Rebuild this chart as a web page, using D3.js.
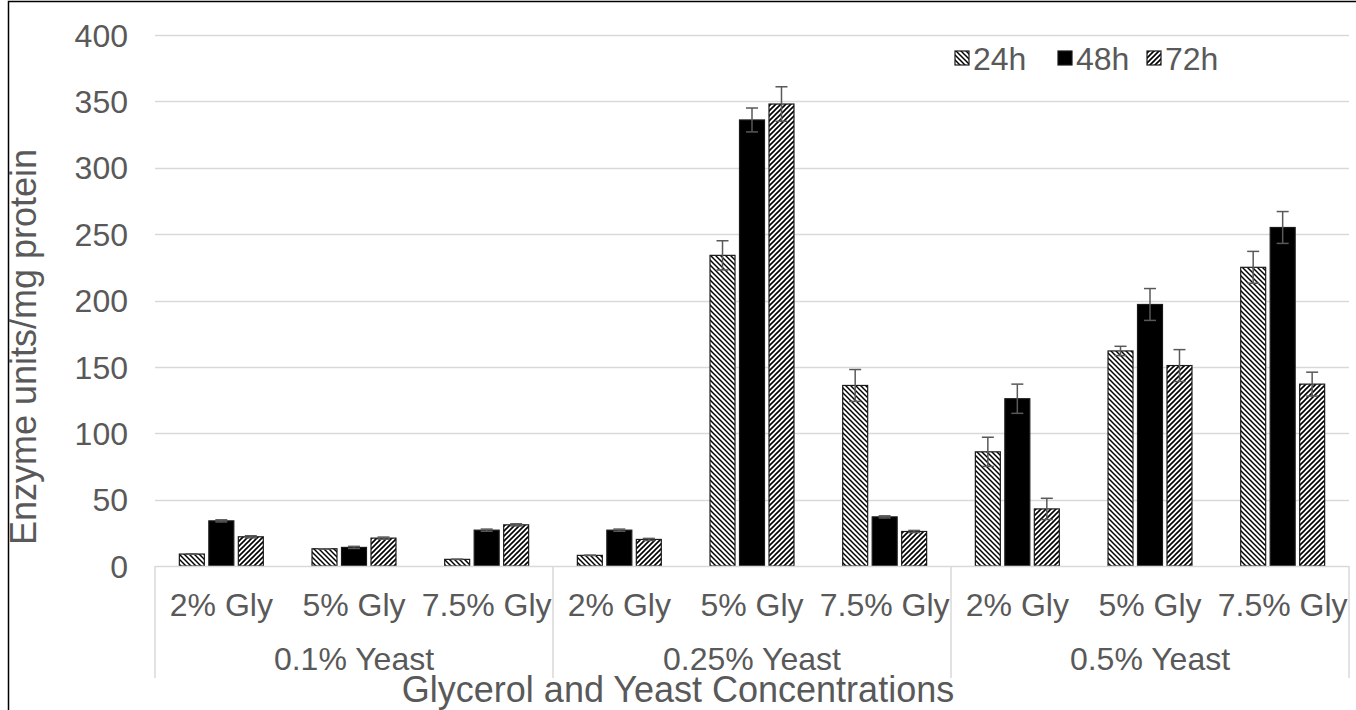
<!DOCTYPE html>
<html><head><meta charset="utf-8">
<script src="https://cdn.jsdelivr.net/npm/d3@7"></script>
<style>body{margin:0;background:#fff}svg{display:block}text{font-family:"Liberation Sans",Arial,sans-serif;fill:#595959}</style>
</head><body><svg id="c" width="1356" height="710"></svg>
<script>
const glycerol = ["2% Gly","5% Gly","7.5% Gly"];
const yeast = ["0.1% Yeast","0.25% Yeast","0.5% Yeast"];
const series = ["24h","48h","72h"];
const yTicks = [0,50,100,150,200,250,300,350,400];
const v24 = [9,13,5, 8,234,136, 86,162,225];
const v48 = [34,14,27, 27,336,37, 126,197,255];
const v72 = [22,21,31, 20,348,26, 43,151,137];
const e24 = [0,0,0, 0,11,12, 11,3.5,12];
const e48 = [0.8,0.8,0.8, 0.8,9,0.8, 11,12,12];
const e72 = [0.8,0.8,0.8, 0.8,13,0.8, 8,12,9];

const svg = d3.select("#c");
const L=155, R=1349, T=35, B=566;
const cats = d3.range(9);
const x0 = d3.scaleBand().domain(cats).range([L,R]).padding(0);
const x1 = d3.scaleBand().domain(series).range([0,x0.bandwidth()]).paddingInner(0.153).paddingOuter(0.826);
const y = d3.scaleLinear().domain([0,400]).range([B,T]);

const defs = svg.append("defs");
function hatch(id, s, dir, sw){
  const p = defs.append("pattern").attr("id",id).attr("patternUnits","userSpaceOnUse").attr("width",s).attr("height",s);
  p.append("rect").attr("width",s).attr("height",s).attr("fill","#fff");
  const g = p.append("g").attr("stroke","#000").attr("stroke-width",sw);
  if(dir==="down"){
    g.append("line").attr("x1",-1).attr("y1",-1).attr("x2",s+1).attr("y2",s+1);
    g.append("line").attr("x1",-1).attr("y1",s-1).attr("x2",1).attr("y2",s+1);
    g.append("line").attr("x1",s-1).attr("y1",-1).attr("x2",s+1).attr("y2",1);
  } else {
    g.append("line").attr("x1",-1).attr("y1",s+1).attr("x2",s+1).attr("y2",-1);
    g.append("line").attr("x1",-1).attr("y1",1).attr("x2",1).attr("y2",-1);
    g.append("line").attr("x1",s-1).attr("y1",s+1).attr("x2",s+1).attr("y2",s-1);
  }
}
hatch("p24",5,"down",1.5);
hatch("p72",5,"up",1.6);
const fills = {"24h":"url(#p24)","48h":"#000","72h":"url(#p72)"};

// outer border
svg.append("rect").attr("x",8.5).attr("y",1.5).attr("width",1400).attr("height",800).attr("fill","none").attr("stroke","#000").attr("stroke-width",1.5);

// gridlines
svg.append("g").selectAll("line").data(yTicks.filter(d=>d>0)).join("line")
  .attr("x1",L).attr("x2",R).attr("y1",d=>Math.round(y(d))+0.5).attr("y2",d=>Math.round(y(d))+0.5)
  .attr("stroke","#d9d9d9").attr("stroke-width",1.5);

// y axis labels
const yAxis = d3.axisLeft(y).tickValues(yTicks).tickSize(0).tickPadding(0);
const ya = svg.append("g").attr("transform","translate(128,0)").call(yAxis);
ya.select(".domain").remove();
ya.selectAll("text").style("font-size","32px").attr("fill","#595959").style("font-family","Liberation Sans, Arial, sans-serif").attr("dy","0.35em");

// bars
const data = [];
cats.forEach(i=>{
  data.push({c:i,s:"24h",v:v24[i],e:e24[i]});
  data.push({c:i,s:"48h",v:v48[i],e:e48[i]});
  data.push({c:i,s:"72h",v:v72[i],e:e72[i]});
});
svg.append("g").selectAll("rect").data(data).join("rect")
  .attr("x",d=>x0(d.c)+x1(d.s)).attr("width",x1.bandwidth())
  .attr("y",d=>y(d.v)).attr("height",d=>B-y(d.v))
  .attr("fill",d=>fills[d.s]).attr("stroke","#1a1a1a").attr("stroke-width",1.2);

// error bars
const eb = svg.append("g").attr("stroke","#595959").attr("stroke-width",1.5);
data.forEach(d=>{
  const cx = x0(d.c)+x1(d.s)+x1.bandwidth()/2;
  const t=y(d.v+d.e), b=y(d.v-d.e);
  eb.append("line").attr("x1",cx).attr("x2",cx).attr("y1",t).attr("y2",b);
  eb.append("line").attr("x1",cx-6).attr("x2",cx+6).attr("y1",t).attr("y2",t);
  eb.append("line").attr("x1",cx-6).attr("x2",cx+6).attr("y1",b).attr("y2",b);
});

// category axis
const ax = svg.append("g").attr("stroke","#d9d9d9").attr("stroke-width",1.5);
ax.append("line").attr("x1",L).attr("x2",R).attr("y1",B+0.5).attr("y2",B+0.5);
[0,3,6,9].forEach(k=>{
  const xx = k<9 ? x0(k) : R;
  ax.append("line").attr("x1",xx).attr("x2",xx).attr("y1",B).attr("y2",678);
});
svg.append("g").selectAll("text").data(cats).join("text")
  .attr("x",d=>x0(d)+x0.bandwidth()/2).attr("y",605).attr("dy","0.35em")
  .attr("text-anchor","middle").style("font-size","32px").text(d=>glycerol[d%3]);
svg.append("g").selectAll("text").data(yeast).join("text")
  .attr("x",(d,i)=>x0(i*3)+x0.bandwidth()*1.5).attr("y",659).attr("dy","0.35em")
  .attr("text-anchor","middle").style("font-size","32px").text(d=>d);

// axis titles
svg.append("text").attr("x",678).attr("y",702).attr("text-anchor","middle")
  .style("font-size","36px").text("Glycerol and Yeast Concentrations");
svg.append("text").attr("transform","translate(36,347) rotate(-90)").attr("text-anchor","middle")
  .style("font-size","36px").text("Enzyme units/mg protein");

// legend
const leg = svg.append("g");
const lx = [955,1058,1147];
series.forEach((s,i)=>{
  leg.append("rect").attr("x",lx[i]).attr("y",51).attr("width",14).attr("height",14)
    .attr("fill",fills[s]).attr("stroke","#1a1a1a").attr("stroke-width",1.2);
  leg.append("text").attr("x",lx[i]+18).attr("y",59).attr("dy","0.35em").style("font-size","32px").text(s);
});
</script></body></html>
